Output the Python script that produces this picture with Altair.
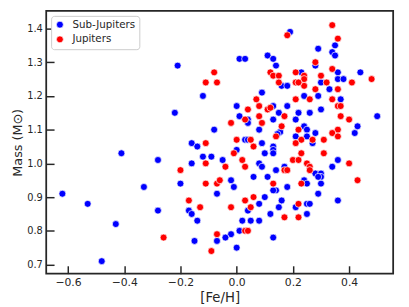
import altair as alt
import pandas as pd

# Sub-Jupiters: [Fe/H] and host mass (M_sun)
sub_feh = [-0.21, -0.12, -0.22, -0.16, -0.14, -0.41, -0.28, -0.16, -0.12, -0.20,
           -0.62, -0.33, -0.53, -0.28, -0.17, -0.16, -0.14, -0.43, -0.15, -0.48,
           0.01, 0.03, 0.11, 0.09, 0.00, 0.01, 0.04, 0.04, -0.08, 0.08,
           0.03, 0.04, 0.09, 0.00, -0.09, -0.05, 0.08, 0.09, 0.10, -0.02,
           -0.01, -0.07, 0.06, 0.11, 0.10, 0.08, 0.04, 0.02, 0.05, 0.08,
           0.01, -0.02, -0.04, -0.07, 0.00, 0.19, 0.29, 0.35, 0.34, 0.35,
           0.13, 0.14, 0.28, 0.16, 0.18, 0.23, 0.36, 0.30, 0.36, 0.38,
           0.44, 0.33, 0.24, 0.29, 0.37, 0.18, 0.13, 0.15, 0.13, 0.22,
           0.26, 0.30, 0.21, 0.50, 0.24, 0.25, 0.28, 0.43, 0.42, 0.155,
           0.145, 0.21, 0.25, 0.27, 0.13, 0.13, 0.13, 0.36, 0.34, 0.17,
           0.14, 0.28, 0.30, 0.30, 0.29, 0.24, 0.25, 0.14, 0.13, 0.18,
           0.30, 0.29, 0.16, 0.36, 0.15, 0.21, 0.25, 0.26, 0.12, 0.25, 0.13]
sub_mass = [1.29, 1.20, 1.15, 1.06, 1.05, 1.03, 1.01, 1.00, 1.02, 0.94,
            0.91, 0.93, 0.88, 0.86, 0.86, 0.85, 0.83, 0.82, 0.77, 0.71,
            1.31, 1.31, 1.32, 1.21, 1.17, 1.14, 1.13, 1.12, 1.10, 1.10,
            1.07, 1.07, 1.06, 1.04, 1.02, 1.01, 1.00, 0.99, 1.03, 0.95,
            0.93, 0.91, 0.96, 0.96, 0.90, 0.88, 0.86, 0.83, 0.83, 0.83,
            0.80, 0.79, 0.78, 0.77, 0.75, 1.39, 1.34, 1.35, 1.33, 1.32,
            1.31, 1.29, 1.29, 1.23, 1.23, 1.27, 1.27, 1.24, 1.25, 1.25,
            1.27, 1.22, 1.20, 1.20, 1.19, 1.17, 1.17, 1.15, 1.13, 1.15,
            1.15, 1.16, 1.13, 1.14, 1.11, 1.10, 1.09, 1.11, 1.09, 1.093,
            1.087, 1.08, 1.08, 1.06, 1.05, 1.04, 1.03, 1.01, 0.99, 0.99,
            0.98, 0.97, 0.97, 0.96, 0.96, 0.95, 0.94, 0.92, 0.92, 0.93,
            0.94, 0.91, 0.89, 0.89, 0.87, 0.87, 0.88, 0.88, 0.85, 0.85, 0.78]

# Jupiters
jup_feh = [-0.20, -0.11, -0.11, -0.17, -0.13, -0.26, -0.08, -0.11, -0.07, 0.07,
           0.08, 0.04, 0.03, 0.08, 0.09, 0.11, -0.02, -0.11, 0.00, 0.05,
           0.06, -0.01, -0.04, 0.02, 0.03, -0.07, -0.06, -0.02, 0.03, 0.06,
           0.05, 0.03, 0.04, -0.07, -0.09, 0.34, 0.18, 0.36, 0.28, 0.12,
           0.13, 0.15, 0.15, 0.21, 0.24, 0.24, 0.24, 0.21, 0.22, 0.30,
           0.34, 0.32, 0.41, 0.48, 0.28, 0.36, 0.26, 0.21, 0.34, 0.36,
           0.37, 0.12, 0.17, 0.37, 0.40, 0.16, 0.22, 0.36, 0.14, 0.23,
           0.27, 0.31, 0.34, 0.36, 0.21, 0.23, 0.31, 0.20, 0.22, 0.25,
           0.26, 0.26, 0.40, 0.17, 0.18, 0.43, 0.23, 0.13, 0.22, 0.17, 0.22]
jup_mass = [0.98, 1.00, 0.94, 0.89, 0.87, 0.78, 1.27, 1.24, 1.24, 1.19,
            1.17, 1.16, 1.13, 1.14, 1.12, 1.16, 1.12, 1.06, 1.07, 1.07,
            1.05, 1.03, 0.99, 1.01, 0.99, 0.94, 0.95, 0.87, 0.89, 0.90,
            0.87, 0.80, 0.80, 0.79, 0.74, 1.41, 1.38, 1.37, 1.30, 1.27,
            1.26, 1.26, 1.24, 1.27, 1.26, 1.25, 1.23, 1.24, 1.24, 1.26,
            1.28, 1.24, 1.24, 1.25, 1.22, 1.22, 1.19, 1.19, 1.19, 1.17,
            1.17, 1.165, 1.14, 1.14, 1.13, 1.11, 1.10, 1.10, 1.08, 1.07,
            1.07, 1.07, 1.09, 1.08, 1.06, 1.03, 1.03, 1.01, 1.01, 1.00,
            0.99, 0.98, 1.00, 0.98, 0.98, 0.95, 0.94, 0.94, 0.88, 0.84, 0.84]

groups = ["Sub-Jupiters", "Jupiters"]
colors = ["#0000ff", "#ff0000"]
x_ticks = [-0.6, -0.4, -0.2, 0.0, 0.2, 0.4]
y_ticks = [0.7, 0.8, 0.9, 1.0, 1.1, 1.2, 1.3, 1.4]

df = pd.DataFrame({
    "feh": sub_feh + jup_feh,
    "mass": sub_mass + jup_mass,
    "group": [groups[0]] * len(sub_feh) + [groups[1]] * len(jup_feh),
})

FONT = "DejaVu Sans"
INK = "#262626"

chart = alt.Chart(df).mark_circle(
    size=50, opacity=1, stroke="white", strokeWidth=0.7
).encode(
    x=alt.X("feh:Q",
            scale=alt.Scale(domain=[-0.6775, 0.5567], nice=False, zero=False),
            axis=alt.Axis(values=x_ticks, format=".1f", title="[Fe/H]",
                          offset=-8, tickSize=8, domain=False, grid=False,
                          labelPadding=3, titlePadding=3,
                          labelFontSize=11, titleFontSize=13.5)),
    y=alt.Y("mass:Q",
            scale=alt.Scale(domain=[0.673, 1.452], nice=False, zero=False),
            axis=alt.Axis(values=y_ticks, format=".1f", title="Mass (M⊙)",
                          offset=-8, tickSize=8, domain=False, grid=False,
                          labelPadding=4, titlePadding=2,
                          labelFontSize=10, titleFontSize=13)),
    color=alt.Color("group:N",
                    scale=alt.Scale(domain=groups, range=colors),
                    legend=alt.Legend(title=None, orient="top-left", offset=5,
                                      padding=3.7, strokeColor="#cccccc",
                                      fillColor="white", cornerRadius=3,
                                      labelFont=FONT, labelFontSize=10.5,
                                      labelColor=INK, symbolSize=50,
                                      symbolType="circle", symbolOpacity=1,
                                      symbolStrokeColor="white",
                                      symbolStrokeWidth=0.7,
                                      rowPadding=4, labelOffset=7.5)),
).properties(
    width=354, height=268,
    padding={"left": 39, "top": 0, "right": 8, "bottom": 31},
    autosize=alt.AutoSizeParams(type="none"),
).configure_view(
    stroke=INK, strokeWidth=1.8
).configure_axis(
    labelFont=FONT, titleFont=FONT, titleFontWeight="normal",
    labelColor=INK, titleColor=INK, tickColor=INK, tickWidth=1.5,
)

chart.save("out.html", embed_options={"renderer": "svg", "actions": False})
